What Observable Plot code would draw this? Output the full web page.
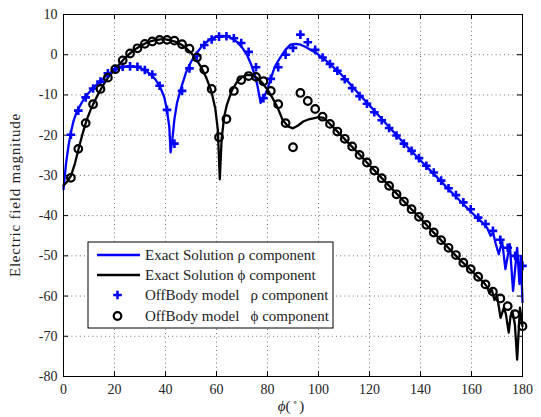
<!DOCTYPE html>
<html>
<head>
<meta charset="utf-8">
<script src="https://cdn.jsdelivr.net/npm/d3@7"></script>
<script src="https://cdn.jsdelivr.net/npm/@observablehq/plot@0.6"></script>
<style>
  html, body { margin: 0; padding: 0; background: #fff; }
  #chart { width: 541px; height: 417px; }
</style>
</head>
<body>
<div id="chart"></div>
<script>
// ---- data ----
const xTicks = [0, 20, 40, 60, 80, 100, 120, 140, 160, 180];
const yTicks = [10, 0, -10, -20, -30, -40, -50, -60, -70, -80];

// Exact solution, rho component
const exactRhoAngle = [0,1,2,3,4,5,6,8,10,12,14,16,18,20,22,24,26,28,30,32,34,36,38,39.5,40.5,41.5,42,42.7,43.5,44.5,46,48,50,52,54,56,58,60,62,64,66,68,70,72,73.5,75,76,77.3,78.5,80,81.5,83,85,87,89,91,93,95,97,99,101,103,106,108,112,116,120,125,130,135,140,145,150,155,160,165,166.1,167.5,168.5,169.5,170.7,172,173.3,175,176.3,177.9,178.8,179.3,180];
const exactRhoValue = [-33.5,-27,-22.5,-19,-16.3,-14.5,-13.2,-11,-9.4,-8,-6.9,-5.7,-4.6,-3.8,-3.3,-3.0,-2.9,-3.0,-3.3,-3.9,-4.8,-6.1,-8.2,-10.5,-13.5,-18,-24.3,-21,-16,-12,-8.5,-4.5,-1.8,0.2,1.9,3.1,4.0,4.5,4.7,4.6,4.1,3.2,1.8,-0.1,-2.3,-5,-7.5,-12,-10.8,-8.5,-5.5,-2.8,-0.7,1.2,2.5,2.7,2.5,1.9,1.2,0.5,-0.6,-1.5,-3.2,-4.3,-7.0,-9.9,-12.6,-16.1,-19.6,-23.0,-26.3,-29.5,-32.8,-36.0,-39.2,-42.2,-43,-45,-44.3,-47,-49.6,-46.3,-53.3,-47.1,-58.7,-48,-57,-50,-61.5];

// Exact solution, phi component
const exactPhiAngle = [0,1.5,3,4.5,6,7.5,9,10.5,12,14,16,18,20,22,24,26,28,30,32,34,36,38,40,42,44,46,48,50,52,54,56,58,59.5,60.5,61.3,62,63,64,66,68,70,72,74,76,78,80,82,84,86,88,90,92,94,96,98,100,102,104,106,110,115,120,125,130,135,140,145,150,155,160,165,166,167,168,169,170,171.4,172.7,173.5,174.6,175.3,176,177,177.9,179,180];
const exactPhiValue = [-32.5,-31.5,-30,-27,-23.2,-19.6,-16.4,-13.9,-11.8,-9.3,-7.1,-5.2,-3.7,-2.3,-0.9,0.3,1.3,2.1,2.8,3.3,3.6,3.8,3.8,3.6,3.2,2.6,1.7,0.5,-1.1,-3.1,-5.7,-9.1,-13.3,-18.5,-31,-21,-15.5,-12.6,-8.9,-6.8,-5.6,-5.0,-5.1,-5.8,-7.0,-8.7,-10.8,-13.2,-16.3,-17.8,-18.3,-17.6,-16.6,-16.1,-15.8,-15.5,-15.7,-16.9,-18.2,-20.8,-24.1,-27.5,-30.8,-34.1,-37.5,-40.7,-44.1,-47.4,-50.7,-53.7,-56.8,-57.6,-59.2,-58.5,-61,-59.8,-65.4,-62.9,-64.5,-69.1,-65,-63.7,-67,-75.8,-62.9,-67.5];

// OffBody model sample angles
const modelAngle = [2.9,5.8,8.7,11.6,14.5,17.4,20.3,23.2,26.1,29.0,31.9,34.8,37.7,40.6,43.5,46.5,49.4,52.3,55.2,58.1,61.0,63.9,66.8,69.7,72.6,75.5,78.4,81.3,84.2,87.1,90.0,92.9,95.8,98.7,101.6,104.5,107.4,110.3,113.2,116.1,119.0,121.9,124.8,127.7,130.6,133.5,136.5,139.4,142.3,145.2,148.1,151.0,153.9,156.8,159.7,162.6,165.5,168.4,171.3,174.2,177.1,180.0];
// OffBody model, rho component
const modelRho = [-19.9,-13.9,-10.6,-8.4,-6.7,-4.6,-3.6,-3.0,-2.9,-3.0,-3.8,-4.9,-7.7,-13.7,-22.1,-9.0,-3.4,-0.2,2.4,3.8,4.5,4.6,4.1,2.9,0.7,-3.1,-10.8,-6.0,-3.1,0.0,1.7,5.0,3.1,1.2,-0.7,-2.3,-4.0,-6.1,-8.3,-10.3,-12.2,-14.3,-16.3,-18.2,-20.1,-22.1,-23.9,-25.7,-27.6,-29.3,-31.3,-33.2,-34.9,-36.7,-38.4,-40.5,-42.1,-43.8,-46.0,-48.0,-50.0,-52.5];
// OffBody model, phi component
const modelPhi = [-30.6,-23.4,-17.0,-12.3,-8.5,-5.7,-3.6,-1.4,0.3,1.6,2.7,3.3,3.7,3.7,3.5,2.6,1.5,-0.7,-3.7,-8.5,-20.5,-16.0,-9.0,-6.3,-5.3,-5.5,-6.6,-9.0,-12.3,-17.0,-23.0,-9.5,-11.5,-13.5,-15.4,-17.2,-19.1,-20.9,-22.8,-24.9,-26.8,-28.8,-30.7,-32.6,-34.7,-36.5,-38.4,-40.3,-42.3,-44.2,-46.1,-48.0,-49.8,-51.7,-53.3,-55.2,-57.1,-58.9,-60.6,-62.5,-64.5,-67.5];

const legendLabels = [
  "Exact Solution \u03C1 component",
  "Exact Solution \u03D5 component",
  "OffBody model   \u03C1 component",
  "OffBody model   \u03D5 component"
];

// ---- tables ----
const exactRho = exactRhoAngle.map((a, i) => ({a, v: exactRhoValue[i]}));
const exactPhi = exactPhiAngle.map((a, i) => ({a, v: exactPhiValue[i]}));
const rhoPts = modelAngle.map((a, i) => ({a, v: modelRho[i]}));
const phiPts = modelAngle.map((a, i) => ({a, v: modelPhi[i]}));

const plusSymbol = {
  draw(ctx, size) {
    const r = Math.sqrt(size / Math.PI);
    ctx.moveTo(-r, 0); ctx.lineTo(r, 0);
    ctx.moveTo(0, -r); ctx.lineTo(0, r);
  }
};

const FONT = "'Liberation Serif', 'DejaVu Serif', serif";
const W = 541, H = 417, ML = 63, MR = 19, MT = 14, MB = 41;
const tickPxX = 5 * 180 / (W - ML - MR);
const tickPxY = 5 * 90 / (H - MT - MB);

const chart = Plot.plot({
  width: W, height: H,
  marginLeft: ML, marginRight: MR, marginTop: MT, marginBottom: MB,
  style: {fontFamily: FONT, fontSize: "14px", color: "#222", background: "#fff"},
  x: {domain: [0, 180], label: null},
  y: {domain: [-80, 10], label: null},
  marks: [
    Plot.gridX(xTicks, {stroke: "#000", strokeOpacity: 0.55, strokeDasharray: "1,3.2"}),
    Plot.gridY(yTicks, {stroke: "#000", strokeOpacity: 0.55, strokeDasharray: "1,3.2"}),
    // inward ticks on all four sides
    Plot.ruleX(xTicks, {x: d => d, y1: -80, y2: -80 + tickPxY, stroke: "#000"}),
    Plot.ruleX(xTicks, {x: d => d, y1: 10, y2: 10 - tickPxY, stroke: "#000"}),
    Plot.ruleY(yTicks, {y: d => d, x1: 0, x2: tickPxX, stroke: "#000"}),
    Plot.ruleY(yTicks, {y: d => d, x1: 180, x2: 180 - tickPxX, stroke: "#000"}),
    Plot.axisX({ticks: xTicks, tickSize: 0, tickPadding: 8, tickFormat: d => String(d)}),
    Plot.axisY({ticks: yTicks, tickSize: 0, tickPadding: 6, tickFormat: d => String(d)}),
    Plot.line(exactRho, {x: "a", y: "v", stroke: "#0000ff", strokeWidth: 2.3}),
    Plot.line(exactPhi, {x: "a", y: "v", stroke: "#000", strokeWidth: 2.3}),
    Plot.dot(rhoPts, {x: "a", y: "v", symbol: plusSymbol, r: 4.3, stroke: "#0000ff", strokeWidth: 2.6, fill: "none"}),
    Plot.dot(phiPts, {x: "a", y: "v", r: 3.8, stroke: "#000", strokeWidth: 2.2, fill: "none"}),
    Plot.frame({stroke: "#000", strokeWidth: 1})
  ]
});

document.getElementById("chart").appendChild(chart);

const svg = d3.select(chart);
svg.selectAll("g[aria-label$='tick label'] text")
  .style("font-size", "14px").style("font-family", FONT);

// ---- axis titles and legend ----
svg.append("text")
  .attr("transform", `translate(20,${(MT + H - MB) / 2}) rotate(-90)`)
  .style("text-anchor", "middle")
  .style("font-family", FONT).style("font-size", "15px").style("letter-spacing", "0.8px").style("fill", "#222")
  .text("Electric field magnitude");

const xl = svg.append("text")
  .attr("x", 291).attr("y", 411)
  .style("text-anchor", "middle")
  .style("font-family", FONT).style("font-size", "15px").style("fill", "#222");
xl.append("tspan").style("font-style", "italic").text("\u03D5");
xl.append("tspan").text("(");
xl.append("tspan").attr("dy", -6).style("font-size", "9px").text(" \u2218 ");
xl.append("tspan").attr("dy", 6).text(")");

const lg = svg.append("g");
lg.append("rect").attr("x", 88).attr("y", 242).attr("width", 245).attr("height", 86)
  .attr("fill", "#fff").attr("stroke", "#000").attr("stroke-width", 1);
const rowsY = [255, 275, 295, 316];
// line samples
lg.append("line").attr("x1", 97).attr("x2", 140).attr("y1", rowsY[0]).attr("y2", rowsY[0])
  .attr("stroke", "#0000ff").attr("stroke-width", 2.3);
lg.append("line").attr("x1", 97).attr("x2", 140).attr("y1", rowsY[1]).attr("y2", rowsY[1])
  .attr("stroke", "#000").attr("stroke-width", 2.3);
lg.append("path").attr("d", `M113.2,${rowsY[2]}h8.6M117.5,${rowsY[2] - 4.3}v8.6`)
  .attr("stroke", "#0000ff").attr("stroke-width", 2.6).attr("fill", "none");
lg.append("circle").attr("cx", 117.5).attr("cy", rowsY[3]).attr("r", 3.8)
  .attr("stroke", "#000").attr("stroke-width", 2.2).attr("fill", "none");
legendLabels.forEach((t, i) => {
  lg.append("text").attr("x", 145).attr("y", rowsY[i]).attr("dy", "0.35em")
    .style("text-anchor", "start")
    .style("font-family", FONT).style("font-size", "15px").style("fill", "#222")
    .style("white-space", "pre")
    .text(t);
});
</script>
</body>
</html>
